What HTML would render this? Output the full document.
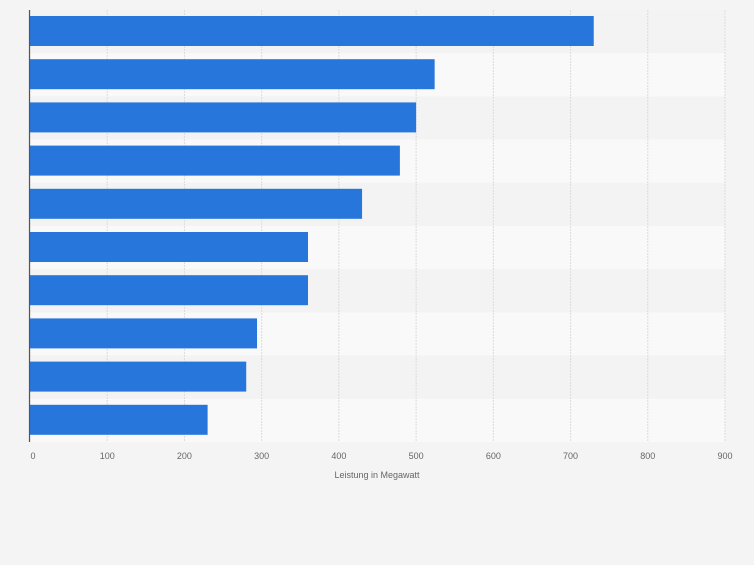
<!DOCTYPE html>
<html><head><meta charset="utf-8"><style>
body{margin:0;background:#f4f4f4;font-family:"Liberation Sans",sans-serif}
</style></head><body>
<svg id="c" width="754" height="560" xmlns="http://www.w3.org/2000/svg"></svg>
<script>
const categories=["A","B","C","D","E","F","G","H","I","J"];
const values=[730,524,500,479,430,360,360,294,280,230];
const ticks=[0,100,200,300,400,500,600,700,800,900];
const svg=document.getElementById('c');
const NS="http://www.w3.org/2000/svg";
const x0=30,x1=725,yTop=10,yBot=442,maxV=900;
const xs=v=>x0+v/maxV*(x1-x0);
const band=(yBot-yTop)/categories.length;
function mk(t,a,p){const e=document.createElementNS(NS,t);for(const k in a)e.setAttribute(k,a[k]);(p||svg).appendChild(e);return e;}
categories.forEach((c,i)=>{
 const r=mk('rect',{x:x0,y:yTop+i*band,width:x1-x0,height:band,fill:i%2?'#f9f9f9':'#f3f3f3'});
 
 
});
ticks.forEach(t=>{
 const l=mk('line',{x1:xs(t),x2:xs(t),y1:yTop,y2:yBot,stroke:'#dcdcdc','stroke-dasharray':'2,1','stroke-width':1});
 
 
 const tx=mk('text',{x:xs(t)+(t===0?3:0),y:459,'font-size':9,fill:'#666','text-anchor':'middle'});
 tx.textContent=t;
 
 
});
values.forEach((v,i)=>{
 const b=mk('rect',{x:x0,y:yTop+i*band+6,width:xs(v)-x0,height:30,fill:'#2776dc'});
 
 
});
const ax=mk('line',{x1:29.5,x2:29.5,y1:yTop,y2:yBot,stroke:'#555','stroke-width':1.2});


const tt=mk('text',{x:377,y:478,'font-size':9,fill:'#666','text-anchor':'middle'});
tt.textContent='Leistung in Megawatt';


</script>
</body></html>
